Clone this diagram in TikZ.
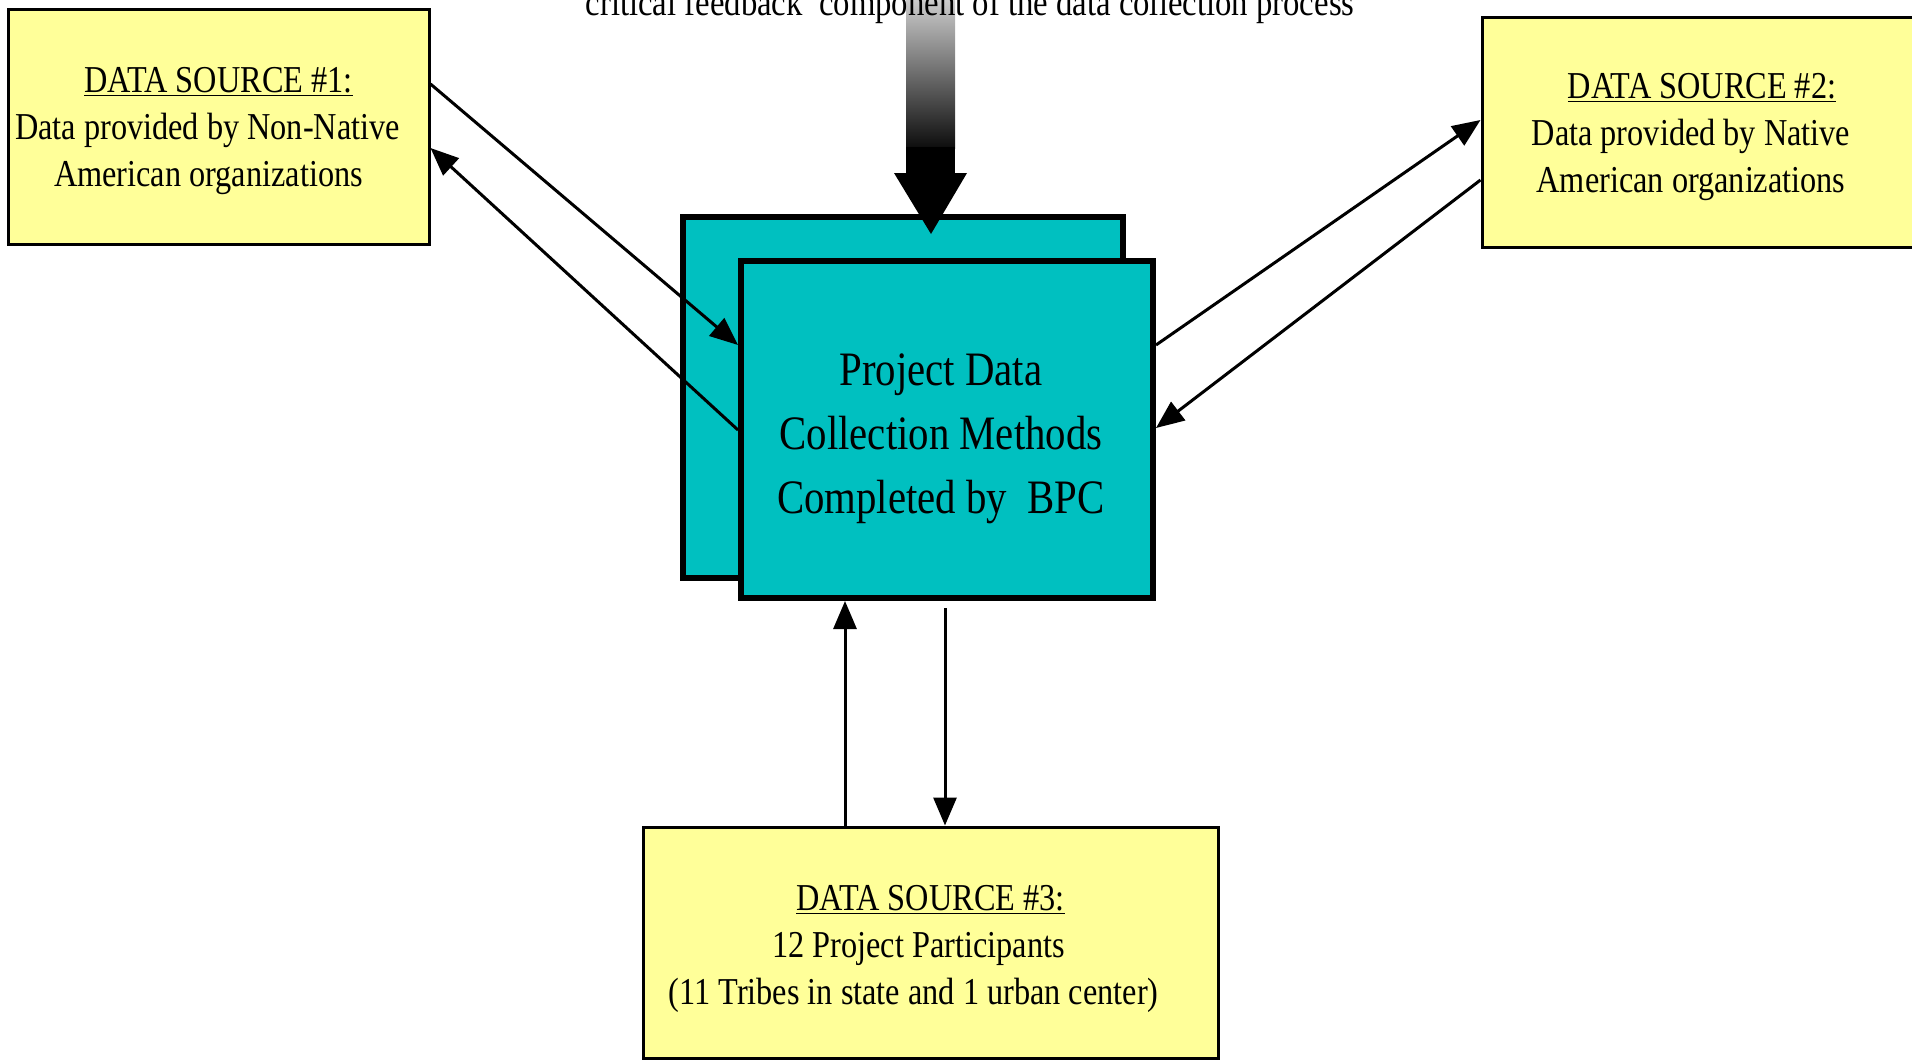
\documentclass[tikz,border=0pt]{standalone}
\usepackage{fontspec}
\setmainfont{Liberation Serif}[FakeStretch=0.85]
\usetikzlibrary{arrows.meta}
\definecolor{srcyellow}{HTML}{FFFF99}
\definecolor{coreteal}{HTML}{00C0C0}
% invisible trailing pad that shifts a centred line to the left
\newcommand{\padr}[1]{\rule{#1}{0pt}}

\begin{document}
\begin{tikzpicture}[x=0.5pt,y=-0.5pt,
  source/.style={draw=black, line width=1.5pt, fill=srcyellow, inner sep=0pt},
  sourcetext/.style={align=center, inner sep=0pt,
    font=\fontsize{19pt}{23.5pt}\selectfont},
  core/.style={draw=black, line width=3pt, fill=coreteal, inner sep=0pt},
  link/.style={line width=1.5pt, -{Triangle[length=14pt,width=11.5pt]}}]

\useasboundingbox (0,0) rectangle (1912,1060);
\clip (0,0) rectangle (1912,1060);

% data sources
\node[source, minimum width=210.5pt, minimum height=117.5pt] (ds1) at (218.5,126.5) {};
\node[sourcetext] (ds1txt) at (218.5,131)
  {\underline{DATA SOURCE \#1:}\\Data provided by Non-Native\padr{11pt}\\American organizations\padr{10pt}};
\node[source, minimum width=224pt, minimum height=115pt] (ds2) at (1706,132) {};
\node[sourcetext] (ds2txt) at (1706,137)
  {\underline{DATA SOURCE \#2:}\padr{4pt}\\Data provided by Native\padr{15pt}\\American organizations\padr{15pt}};
\node[source, minimum width=287.5pt, minimum height=115.5pt] (ds3) at (930.5,942.5) {};
\node[sourcetext] (ds3txt) at (930.5,949)
  {\underline{DATA SOURCE \#3:}\\12 Project Participants\padr{12pt}\\(11 Tribes in state and 1 urban center)\padr{17pt}};

% stacked core boxes
\node[core, minimum width=220pt, minimum height=180.5pt] (back) at (903,397.5) {};

% feedback arrow with grey fade
\path (back.north -| 931,0) ++(0,20) coordinate (fbtip);
\shade[top color=black!20, bottom color=black!95] (906,0) rectangle (955,148);
\fill[black] (906,147) rectangle (955,174);
\fill[black] (894,173) -- (967,173) -- (fbtip) -- cycle;

\node[core, minimum width=206pt, minimum height=168.5pt] (front) at (947,429.5) {};
\node[align=center, inner sep=0pt, font=\fontsize{24pt}{32pt}\selectfont] (fronttxt) at (941,438.5)
  {Project Data\\Collection Methods\\Completed by\ \ BPC};

% note at the top
\node[anchor=base, font=\fontsize{19.25pt}{23pt}\selectfont, inner sep=0pt] (fbnote) at (970,16)
  {critical feedback\ \ component of the data collection process};

% exchanges with the sources
\draw[link] (ds1.east |- 0,84) -- (front.west |- 0,345);
\draw[link] (front.west |- 0,430) -- (ds1.east |- 0,148);
\draw[link] (front.east |- 0,345) -- (ds2.west |- 0,120);
\draw[link] (ds2.west |- 0,180) -- (front.east |- 0,428);
\draw[link] (ds3.north -| 845,0) -- (front.south -| 845,0);
\path (front.south -| 945,0) ++(0,7) coordinate (dtop);
\draw[link] (dtop) -- (ds3.north -| 945,0);
\end{tikzpicture}
\end{document}
